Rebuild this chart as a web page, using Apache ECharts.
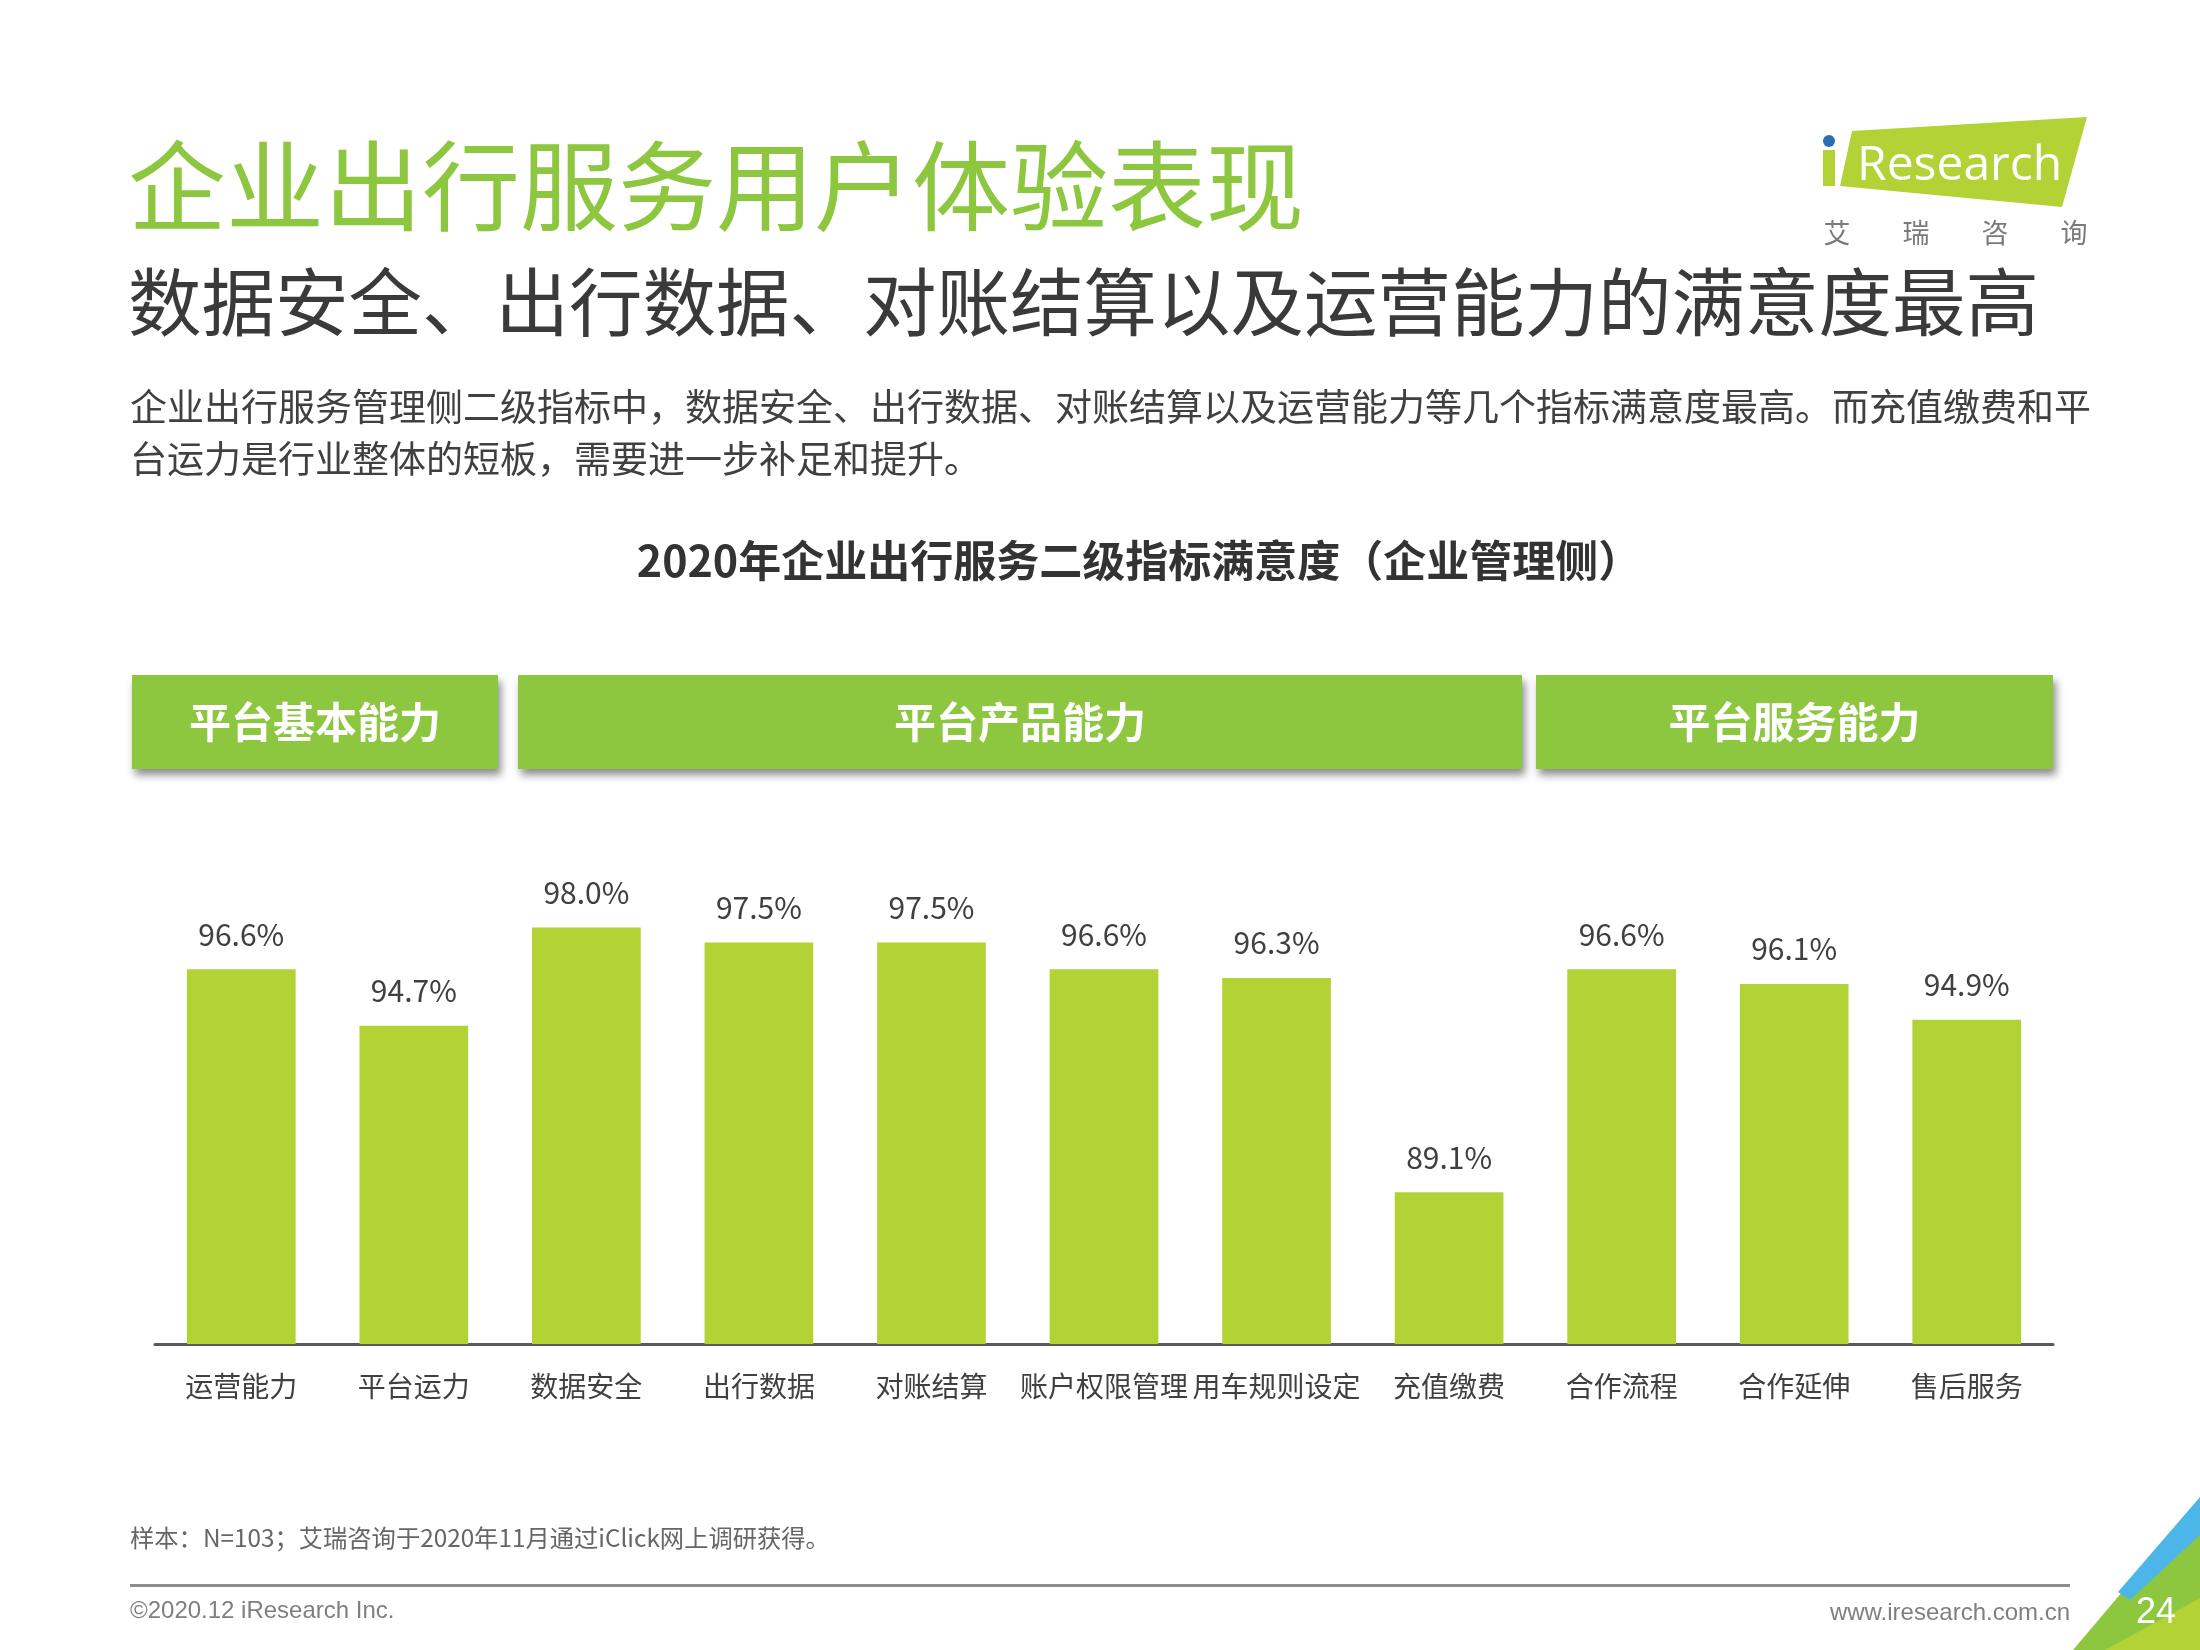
<!DOCTYPE html>
<html>
<head>
<meta charset="utf-8">
<script src="https://cdn.jsdelivr.net/npm/echarts@6/dist/echarts.min.js"></script>
<style>
html,body{margin:0;padding:0;background:#fff;}
#chart{width:2200px;height:1650px;}
</style>
</head>
<body>
<div id="chart"></div>
<script>
const categories = ['运营能力','平台运力','数据安全','出行数据','对账结算','账户权限管理','用车规则设定','充值缴费','合作流程','合作延伸','售后服务'];
const values = [96.6, 94.7, 98.0, 97.5, 97.5, 96.6, 96.3, 89.1, 96.6, 96.1, 94.9];
const groupNames = ['平台基本能力','平台产品能力','平台服务能力'];
const pageTitle = '企业出行服务用户体验表现';
const pageSubtitle = '数据安全、出行数据、对账结算以及运营能力的满意度最高';
const bodyLines = ['企业出行服务管理侧二级指标中，数据安全、出行数据、对账结算以及运营能力等几个指标满意度最高。而充值缴费和平','台运力是行业整体的短板，需要进一步补足和提升。'];
const chartTitle = '2020年企业出行服务二级指标满意度（企业管理侧）';
const footnote = '样本：N=103；艾瑞咨询于2020年11月通过iClick网上调研获得。';
const copyright = '©2020.12 iResearch Inc.';
const website = 'www.iresearch.com.cn';
const pageNo = '24';

const CJK = '"Noto Sans CJK SC", "Noto Sans", sans-serif';
const chart = echarts.init(document.getElementById('chart'), null, {renderer:'canvas'});

const boxes = [[132,498],[518,1522],[1536,2053]];
const graphic = [];
// titles
graphic.push({type:'text', left:128, top:137, style:{text:pageTitle, font:'400 98px '+CJK, fill:'#8DC63F'}});
graphic.push({type:'text', left:128, top:265, style:{text:pageSubtitle, font:'400 73.5px '+CJK, fill:'#3A3A3A'}});
graphic.push({type:'text', left:130, top:388, style:{text:bodyLines[0], font:'400 37px '+CJK, fill:'#404040'}});
graphic.push({type:'text', left:130, top:440, style:{text:bodyLines[1], font:'400 37px '+CJK, fill:'#404040'}});
graphic.push({type:'text', x:1139, y:561, style:{text:chartTitle, font:'700 43px '+CJK, fill:'#333333', align:'center', verticalAlign:'middle'}});
// group boxes
boxes.forEach((b,i)=>{
  graphic.push({type:'rect', shape:{x:b[0], y:675, width:b[1]-b[0], height:94},
    style:{fill:'#8DC63F', shadowBlur:8, shadowOffsetX:3, shadowOffsetY:6, shadowColor:'rgba(0,0,0,0.45)'}});
  graphic.push({type:'text', x:(b[0]+b[1])/2, y:722, style:{text:groupNames[i], font:'700 42px '+CJK, fill:'#ffffff', align:'center', verticalAlign:'middle'}});
});
// logo
graphic.push({type:'polygon', shape:{points:[[1852,131],[2087,117],[2062,207],[1840,186]]}, style:{fill:'#B2D235'}});
graphic.push({type:'rect', shape:{x:1823, y:150, width:12, height:36}, style:{fill:'#B2D235'}});
graphic.push({type:'circle', shape:{cx:1829, cy:141, r:6}, style:{fill:'#2E6DB4'}});
graphic.push({type:'text', x:1857, y:166, style:{text:'Research', font:'400 48px "Open Sans", sans-serif', fill:'#ffffff', verticalAlign:'middle'}});
['艾','瑞','咨','询'].forEach((c,i)=>{
  graphic.push({type:'text', x:1837+i*79, y:233, style:{text:c, font:'400 27px '+CJK, fill:'#7A7A7A', align:'center', verticalAlign:'middle'}});
});
// footer
graphic.push({type:'text', left:130, top:1526, style:{text:footnote, font:'400 24.3px '+CJK, fill:'#666666'}});
graphic.push({type:'rect', shape:{x:130, y:1584, width:1940, height:3}, style:{fill:'#8C8C8C'}});
graphic.push({type:'text', left:130, top:1599, style:{text:copyright, font:'400 24px "Liberation Sans", Arial, sans-serif', fill:'#7F7F7F'}});
graphic.push({type:'text', x:2070, y:1613, style:{text:website, font:'400 24px "Liberation Sans", Arial, sans-serif', fill:'#7F7F7F', align:'right', verticalAlign:'middle'}});
// corner
graphic.push({type:'polygon', shape:{points:[[2200,1500],[2200,1650],[2073,1650]]}, style:{fill:'#8DC63F'}});
graphic.push({type:'polygon', shape:{points:[[2200,1598],[2200,1650],[2105,1650]]}, style:{fill:'#B2D235'}});
graphic.push({type:'polygon', shape:{points:[[2200,1497],[2200,1535],[2130,1600],[2118,1592]]}, style:{fill:'#4DB6E8'}});
graphic.push({type:'text', x:2156, y:1613, style:{text:pageNo, font:'400 36px "Liberation Sans", Arial, sans-serif', fill:'#ffffff', align:'center', verticalAlign:'middle'}});

chart.setOption({
  backgroundColor:'#ffffff',
  animation:false,
  grid:{left:155, right:147, top:868, bottom:306, containLabel:false},
  xAxis:{type:'category', data:categories,
    axisLine:{show:true, lineStyle:{color:'#595959', width:3}},
    axisTick:{show:false},
    axisLabel:{interval:0, margin:28, fontSize:28, color:'#404040', fontFamily:CJK}},
  yAxis:{type:'value', min:84, max:100, show:false, splitLine:{show:false}},
  series:[{type:'bar', data:values, barCategoryGap:'37%',
    itemStyle:{color:'#B2D235'},
    label:{show:true, position:'top', distance:20, fontSize:30, color:'#404040', fontFamily:CJK,
      formatter:p=>p.value.toFixed(1)+'%'}}],
  graphic:graphic
});
</script>
</body>
</html>
